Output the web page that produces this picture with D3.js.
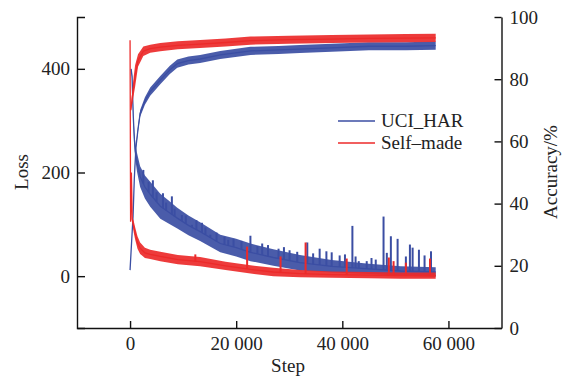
<!DOCTYPE html>
<html>
<head>
<meta charset="utf-8">
<script src="https://cdn.jsdelivr.net/npm/d3@7"></script>
<style>
  body { margin: 0; background: #fff; }
</style>
</head>
<body>
<script>
// ---- data ----
const seriesNames = ["UCI_HAR", "Self–made"];
const xTicks = [0, 20000, 40000, 60000];
const lossTicks = [0, 200, 400];
const accTicks = [0, 20, 40, 60, 80, 100];

// UCI_HAR loss: band centre and half width
const blueLossStep = [200, 380, 600, 800, 1000, 1300, 1900, 2800, 3800, 5700, 7500, 8900, 11000, 13200, 17000, 20000, 22700, 27000, 32000, 38000, 45000, 51000, 57600];
const blueLossMid = [400, 385, 310, 265, 240, 220, 192, 172, 158, 135, 122, 112, 98, 86, 63, 55, 46, 36, 26, 19, 14, 10, 8];
const blueLossSpread = [0, 5, 10, 14, 16, 18, 20, 22, 24, 24, 22, 20, 19, 18, 17, 17, 17, 16, 15, 12, 10, 9, 9];
const blueSpikeStep = [2500, 3500, 4300, 5000, 6200, 6800, 7880, 8400, 9770, 10500, 11660, 12500, 13550, 14200, 15120, 16300, 17800, 18500, 19500, 21000, 22680, 24000, 24900, 26000, 27980, 29000, 30060, 31500, 33400, 34500, 35730, 37000, 38000, 39500, 40500, 41900, 42500, 43100, 44600, 45500, 46300, 47770, 48390, 49150, 50420, 51980, 52740, 53250, 54440, 55500, 56710];
const blueSpikeLoss = [205, 182, 185, 162, 160, 142, 154, 130, 118, 117, 99, 108, 103, 94, 80, 84, 76, 70, 72, 68, 78, 58, 63, 60, 53, 56, 50, 47, 65, 44, 53, 48, 46, 40, 42, 97, 38, 29, 29, 35, 32, 115, 45, 77, 72, 38, 61, 55, 51, 40, 48];

// Self-made loss
const redLossStep = [0, 100, 250, 400, 700, 945, 1400, 1900, 2800, 3800, 5700, 9000, 13200, 18000, 22700, 27000, 32000, 38000, 45000, 51000, 57600];
const redLossMid = [455, 105, 200, 110, 95, 83, 65, 54, 45, 42, 38, 32, 28, 20, 13, 8, 5, 3, 2, 1, 1];
const redLossSpread = [0, 0, 0, 5, 11, 12, 12, 11, 10, 9, 9, 9, 9, 8, 8, 8, 7, 6, 6, 6, 6];
const redSpikeStep = [12300, 22060, 28360, 33080, 40830, 48770, 49660, 51980, 56520];
const redSpikeLoss = [42, 57, 38, 65, 34, 36, 29, 26, 34];

// UCI_HAR accuracy
const blueAccStep = [0, 300, 567, 800, 1100, 1500, 1900, 2800, 3800, 5700, 7500, 8900, 11000, 13200, 17000, 22700, 28000, 32000, 38000, 45000, 52000, 57600];
const blueAccMid = [18.6, 28, 36, 48, 58, 64, 69, 73, 76, 79.7, 83, 85, 86, 86.5, 87.8, 89.1, 89.4, 89.7, 90.1, 90.6, 90.6, 90.8];
const blueAccSpread = [0, 0, 0, 0.3, 0.6, 0.9, 1.1, 1.2, 1.3, 1.3, 1.3, 1.3, 1.3, 1.3, 1.3, 1.3, 1.3, 1.3, 1.3, 1.3, 1.3, 1.3];

// Self-made accuracy
const redAccStep = [150, 400, 700, 945, 1500, 2500, 3800, 5700, 9000, 13200, 18000, 22700, 30000, 38000, 45000, 52000, 57600];
const redAccMid = [70, 74, 78, 81, 86, 89, 89.8, 90.3, 90.9, 91.3, 91.8, 92.4, 92.7, 92.9, 93.1, 93.2, 93.3];
const redAccSpread = [0, 2, 3, 3.5, 2, 1.5, 1.3, 1.3, 1.3, 1.3, 1.3, 1.3, 1.3, 1.3, 1.3, 1.3, 1.3];

// ---- chart ----
const width = 566, height = 377;
const margin = { top: 17, right: 64.5, bottom: 49, left: 77 };
const blue = "#3b4ea3", red = "#ec2a2a";
const font = "'Times New Roman', 'Liberation Serif', 'DejaVu Serif', serif";

const x = d3.scaleLinear().domain([-10000, 70000]).range([margin.left, width - margin.right]);
const yLoss = d3.scaleLinear().domain([-100, 500]).range([height - margin.bottom, margin.top]);
const yAcc = d3.scaleLinear().domain([0, 100]).range([height - margin.bottom, margin.top]);

const fmt = d3.formatLocale({ decimal: ".", thousands: " ", grouping: [3], currency: ["", ""] }).format(",d");

const svg = d3.select("body").append("svg")
  .attr("width", width)
  .attr("height", height)
  .attr("viewBox", [0, 0, width, height])
  .style("font-family", font);

function band(steps, mid, spread, y, color) {
  const I = d3.range(steps.length);
  const a = d3.area()
    .x((i) => x(steps[i]))
    .y0((i) => y(mid[i] - spread[i]))
    .y1((i) => y(mid[i] + spread[i]));
  svg.append("path").attr("d", a(I)).attr("fill", color).attr("fill-opacity", 0.92);
  const l = d3.line().x((i) => x(steps[i])).y((i) => y(mid[i]));
  svg.append("path").attr("d", l(I))
    .attr("fill", "none").attr("stroke", color).attr("stroke-width", 1.3);
}

function spikes(steps, vals, baseSteps, baseMid, color) {
  const base = d3.scaleLinear().domain(baseSteps).range(baseMid);
  svg.append("g").selectAll("line")
    .data(d3.range(steps.length))
    .join("line")
    .attr("x1", (i) => x(steps[i])).attr("x2", (i) => x(steps[i]))
    .attr("y1", (i) => yLoss(base(steps[i])))
    .attr("y2", (i) => yLoss(vals[i]))
    .attr("stroke", color).attr("stroke-width", 2);
}

band(blueLossStep, blueLossMid, blueLossSpread, yLoss, blue);
spikes(blueSpikeStep, blueSpikeLoss, blueLossStep, blueLossMid, blue);
band(blueAccStep, blueAccMid, blueAccSpread, yAcc, blue);
band(redLossStep, redLossMid, redLossSpread, yLoss, red);
spikes(redSpikeStep, redSpikeLoss, redLossStep, redLossMid, red);
band(redAccStep, redAccMid, redAccSpread, yAcc, red);

// axes
const fs = "19px";
const gx = svg.append("g")
  .attr("transform", `translate(0,${height - margin.bottom})`)
  .call(d3.axisBottom(x).tickValues(xTicks).tickFormat(fmt).tickSizeInner(-7).tickSizeOuter(0).tickPadding(9));
const gl = svg.append("g")
  .attr("transform", `translate(${margin.left},0)`)
  .call(d3.axisLeft(yLoss).tickValues(lossTicks).tickSizeInner(-8).tickSizeOuter(-8).tickPadding(7));
const gr = svg.append("g")
  .attr("transform", `translate(${width - margin.right},0)`)
  .call(d3.axisRight(yAcc).tickValues(accTicks).tickSizeInner(-7).tickSizeOuter(0).tickPadding(8));

[gx, gl, gr].forEach((g) => {
  g.attr("font-family", null).attr("font-size", null);
  g.selectAll("path, line").attr("stroke", "#111").attr("stroke-width", 1.4);
  g.selectAll("text").style("font-size", fs).style("font-family", font).attr("fill", "#222");
});

svg.append("text")
  .attr("transform", `translate(28,${172}) rotate(-90)`)
  .attr("text-anchor", "middle")
  .attr("fill", "#222")
  .style("font-size", fs)
  .text("Loss");
svg.append("text")
  .attr("transform", `translate(557,${172}) rotate(-90)`)
  .attr("text-anchor", "middle")
  .attr("fill", "#222")
  .style("font-size", fs)
  .text("Accuracy/%");
svg.append("text")
  .attr("x", 288).attr("y", 372)
  .attr("text-anchor", "middle")
  .attr("fill", "#222")
  .style("font-size", fs)
  .text("Step");

// legend
const legend = svg.append("g");
[blue, red].forEach((c, i) => {
  legend.append("line")
    .attr("x1", 338).attr("x2", 375)
    .attr("y1", 121 + i * 22).attr("y2", 121 + i * 22)
    .attr("stroke", c).attr("stroke-width", 1.4);
  legend.append("text")
    .attr("x", 381).attr("y", 127 + i * 22)
    .attr("fill", "#222")
    .style("font-size", fs)
    .text(seriesNames[i]);
});
</script>
</body>
</html>
